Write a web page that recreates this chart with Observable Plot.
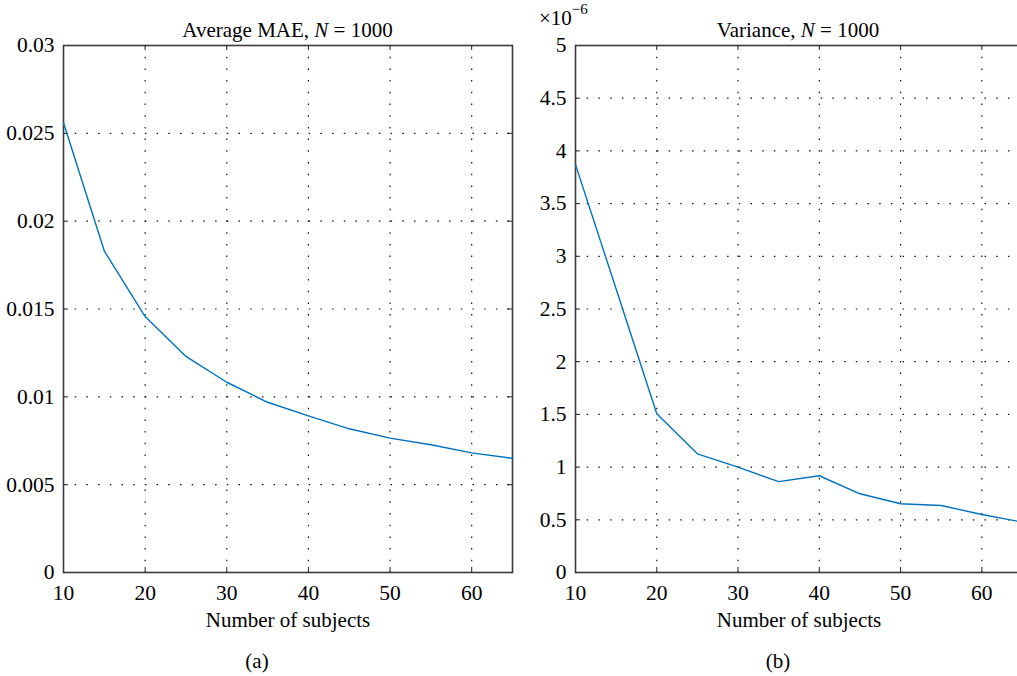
<!DOCTYPE html>
<html><head><meta charset="utf-8">
<script src="https://cdn.jsdelivr.net/npm/d3@7"></script>
<script src="https://cdn.jsdelivr.net/npm/@observablehq/plot@0.6"></script>
<style>
body{margin:0;background:#fff;overflow:hidden}
#wrap{position:relative;width:1017px;height:676px;overflow:hidden;font-family:"Liberation Serif",serif;color:#000;background:#fff}
.abs{position:absolute;font-size:21px;line-height:20px;white-space:nowrap;font-family:"Liberation Serif",serif}
.panel{position:absolute;top:0}
</style></head><body><div id="wrap"></div>
<script>
// Data
const subjects = [10, 15, 20, 25, 30, 35, 40, 45, 50, 55, 60, 65];
const maeValues = [0.0256, 0.0183, 0.01457, 0.0123, 0.01083, 0.00969, 0.00892, 0.00818, 0.00765, 0.00727, 0.00681, 0.0065];
// variance in units of 10^-6
const varianceValues = [3.87, 2.69, 1.506, 1.126, 1.0, 0.862, 0.918, 0.747, 0.652, 0.636, 0.55, 0.478];
const xTicks = [10, 20, 30, 40, 50, 60];
const maeTicks = [0, 0.005, 0.01, 0.015, 0.02, 0.025, 0.03];
const varTicks = [0, 0.5, 1, 1.5, 2, 2.5, 3, 3.5, 4, 4.5, 5];
const xLabel = "Number of subjects";

const wrap = document.getElementById("wrap");
const H = 676, MT = 45, MB = 104;
const innerH = H - MT - MB;

function panel({values, yDomain, yTicks, fmt, left, marginLeft, innerW, marginRight}) {
  const data = subjects.map((s, i) => ({s, v: values[i]}));
  const width = marginLeft + innerW + marginRight;
  const gridStyle = {stroke: "#111", strokeWidth: 1.2, strokeDasharray: "1.5,10.2"};
  const p = Plot.plot({
    width, height: H,
    marginLeft, marginRight, marginTop: MT, marginBottom: MB,
    style: {fontFamily: "Liberation Serif, serif", fontSize: "21.5px", color: "#000", background: "transparent", overflow: "visible"},
    x: {domain: [10, 65], ticks: xTicks, tickSize: 0, tickPadding: 12, label: null, tickFormat: d => String(d)},
    y: {domain: yDomain, ticks: yTicks, tickSize: 0, tickPadding: 9, label: null, tickFormat: fmt},
    marks: [
      Plot.ruleX(xTicks.slice(1), {x: d => d, ...gridStyle}),
      Plot.ruleY(yTicks.slice(1, -1), {y: d => d, ...gridStyle}),
      Plot.ruleX(xTicks, {x: d => d, stroke: "#222", strokeWidth: 1, insetBottom: innerH - 5}),
      Plot.ruleX(xTicks, {x: d => d, stroke: "#222", strokeWidth: 1, insetTop: innerH - 5}),
      Plot.ruleY(yTicks, {y: d => d, stroke: "#222", strokeWidth: 1, insetRight: innerW - 5}),
      Plot.ruleY(yTicks, {y: d => d, stroke: "#222", strokeWidth: 1, insetLeft: innerW - 5}),
      Plot.frame({stroke: "#3a3a3a", strokeWidth: 1.6}),
      Plot.line(data, {x: "s", y: "v", stroke: "#0072BD", strokeWidth: 1.4}),
      Plot.text([xLabel], {frameAnchor: "bottom", dy: 48, lineAnchor: "middle", fontSize: 21, fill: "#000"})
    ]
  });
  p.classList.add("panel");
  p.style.left = left + "px";
  wrap.appendChild(p);
}

panel({values: maeValues, yDomain: [0, 0.03], yTicks: maeTicks, fmt: d => String(+d.toFixed(3)),
       left: 0, marginLeft: 63, innerW: 449, marginRight: 18});
panel({values: varianceValues, yDomain: [0, 5], yTicks: varTicks, fmt: d => String(+d.toFixed(1)),
       left: 520, marginLeft: 55, innerW: 447, marginRight: 10});

function addText(html, x, top, align, size) {
  const d = document.createElement("div");
  d.className = "abs";
  d.innerHTML = html;
  d.style.top = top + "px";
  if (size) d.style.fontSize = size + "px";
  if (align === "center") { d.style.left = (x - 300) + "px"; d.style.width = "600px"; d.style.textAlign = "center"; }
  else d.style.left = x + "px";
  wrap.appendChild(d);
}
addText("Average MAE, <i>N</i> = 1000", 287.5, 20, "center");
addText("Variance, <i>N</i> = 1000", 798, 20, "center");
addText("×10<span style=\"font-size:15px;position:relative;top:-11px;\">−6</span>", 539, 8, "left");
addText("(a)", 257, 651, "center");
addText("(b)", 778, 651, "center");
</script></body></html>
